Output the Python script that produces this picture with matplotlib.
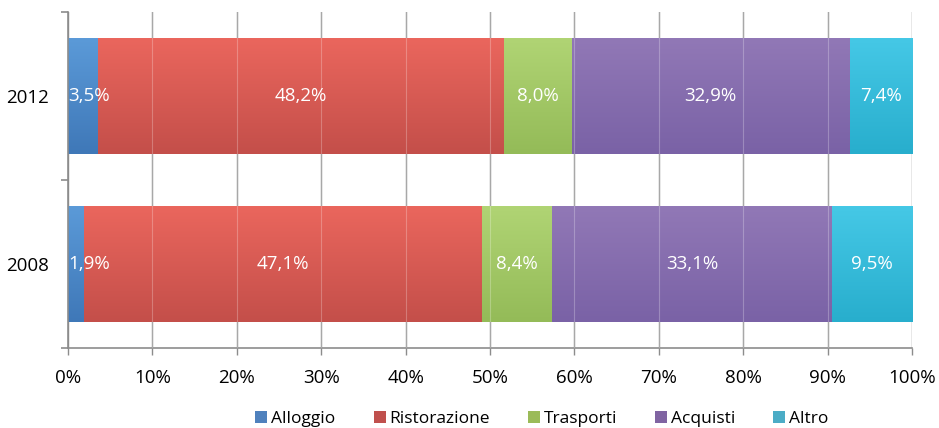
"""Spesa per categoria, 2008 vs 2012: barre orizzontali in pila al 100%."""

import matplotlib

matplotlib.use("Agg")
import matplotlib.pyplot as plt
import numpy as np
from matplotlib.colors import to_rgb
from matplotlib.lines import Line2D

plt.rcParams["font.family"] = ["Open Sans", "DejaVu Sans"]

# Data.
years = ["2008", "2012"]
categories = ["Alloggio", "Ristorazione", "Trasporti", "Acquisti", "Altro"]
shares_2008 = [1.9, 47.1, 8.4, 33.1, 9.5]
shares_2012 = [3.5, 48.2, 8.0, 32.9, 7.4]
shares = [shares_2008, shares_2012]

# (light top, dark bottom) gradient for each category.
COLORS = {
    "Alloggio": ("#5b9ad8", "#3f78b8"),
    "Ristorazione": ("#ea665d", "#c44f4a"),
    "Trasporti": ("#b0d474", "#94bb58"),
    "Acquisti": ("#9178b6", "#7a62a6"),
    "Altro": ("#45c8e6", "#28aecd"),
}
LEGEND_COLORS = {
    "Alloggio": "#4f81bd",
    "Ristorazione": "#c0504d",
    "Trasporti": "#9bbb59",
    "Acquisti": "#8064a2",
    "Altro": "#4bacc6",
}
BAR_HEIGHT = 0.69
GRID_GRAY = "#8c8c8c"


def gradient(top, bottom, n=64):
    """Returns an (n, 1, 3) image going from bottom (row 0) to top."""
    t = np.linspace(0, 1, n)[:, None]
    c0 = np.array(to_rgb(bottom))
    c1 = np.array(to_rgb(top))
    return (c0 + (c1 - c0) * t)[:, None, :]


fig = plt.figure(figsize=(9.39, 4.28), dpi=100)
ax = fig.add_axes([68 / 939, 1 - 348 / 428, 844 / 939, 336 / 428])

y_pos = np.arange(len(years))
left = np.zeros(len(years))
for i, cat in enumerate(categories):
    widths = np.array([s[i] for s in shares])
    bars = ax.barh(y_pos, widths, left=left, height=BAR_HEIGHT,
                   color=LEGEND_COLORS[cat], zorder=2)
    top, bottom = COLORS[cat]
    for bar in bars:
        x0, y0 = bar.get_x(), bar.get_y()
        im = ax.imshow(gradient(top, bottom), origin="lower", aspect="auto",
                       extent=(x0, x0 + bar.get_width(), y0,
                               y0 + bar.get_height()),
                       zorder=2.1, interpolation="bilinear")
        im.set_clip_path(bar)
    for y, l, w in zip(y_pos, left, widths):
        label = f"{w:.1f}%".replace(".", ",")
        if i == 0:
            # Narrow first segment: the label starts at the axis.
            ax.text(l + 0.05, y, label, color="white", ha="left",
                    va="center", fontsize=13.5, zorder=4)
        else:
            ax.text(l + w / 2, y, label, color="white", ha="center",
                    va="center", fontsize=13.5, zorder=4)
    left += widths

# Faint grid lines showing through the bars.
for x in range(10, 100, 10):
    ax.axvline(x, color="white", alpha=0.25, linewidth=0.8, zorder=3)

ax.set_xlim(0, 100)
ax.set_ylim(-0.5, len(years) - 0.5)
ax.set_xticks(np.arange(0, 101, 10))
ax.set_xticklabels([f"{x}%" for x in range(0, 101, 10)])
ax.set_yticks(y_pos)
ax.set_yticklabels(years)
ax.set_yticks(np.arange(-0.5, len(years)), minor=True)
ax.grid(axis="x", color=GRID_GRAY, linewidth=1.0, zorder=0)
ax.set_axisbelow(True)

for side in ("top", "right"):
    ax.spines[side].set_visible(False)
for side in ("left", "bottom"):
    ax.spines[side].set_color(GRID_GRAY)
    ax.spines[side].set_linewidth(1.2)
ax.tick_params(axis="x", length=5, color=GRID_GRAY, width=1.0, pad=10,
               labelsize=13.5)
ax.tick_params(axis="y", which="major", length=0, pad=14, labelsize=13.5)
ax.tick_params(axis="y", which="minor", length=5, color=GRID_GRAY, width=1.2)

handles = [Line2D([], [], marker="s", linestyle="none", markersize=8,
                  markerfacecolor=LEGEND_COLORS[c], markeredgewidth=0)
           for c in categories]
fig.legend(handles, categories, loc="center", bbox_to_anchor=(0.578, 0.022),
           ncol=5, frameon=False, fontsize=12.5, handlelength=0.5,
           handletextpad=0.3, columnspacing=2.3)

fig.savefig("out.png", dpi=100)
